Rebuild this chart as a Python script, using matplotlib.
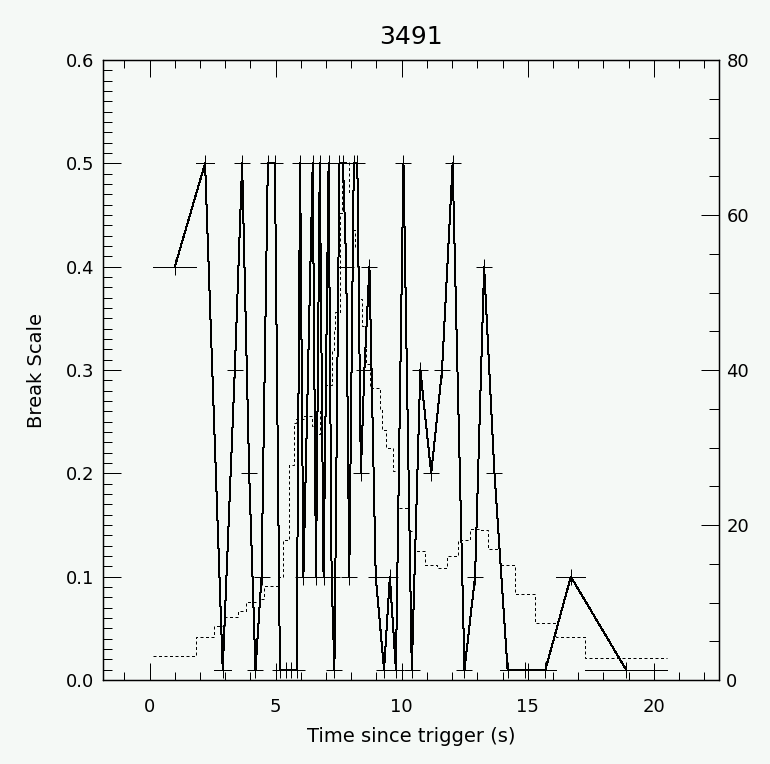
import numpy as np
import matplotlib
matplotlib.use('Agg')
import matplotlib.pyplot as plt
from matplotlib.ticker import MultipleLocator, FormatStrFormatter

# break scale per time bin (bin centre, half width, value)
t = [1.0, 2.2, 2.9, 3.38, 3.67, 3.95, 4.20, 4.44, 4.69, 4.97,
     5.17, 5.40, 5.62, 5.83, 5.97, 6.10, 6.47, 6.60, 6.75, 6.90,
     7.10, 7.22, 7.33, 7.53, 7.67, 7.80, 7.92, 8.10, 8.24, 8.38,
     8.52, 8.72, 8.97, 9.30, 9.53, 9.77, 10.07, 10.40, 10.74, 11.17,
     11.60, 12.02, 12.49, 12.91, 13.27, 13.68, 14.20, 14.88, 15.70, 16.71,
     18.90]
scale = [0.4, 0.5, 0.01, 0.3, 0.5, 0.2, 0.01, 0.1, 0.5, 0.5,
         0.01, 0.01, 0.01, 0.01, 0.5, 0.1, 0.5, 0.1, 0.5, 0.1,
         0.5, 0.1, 0.01, 0.5, 0.5, 0.4, 0.1, 0.5, 0.5, 0.2,
         0.3, 0.4, 0.1, 0.01, 0.1, 0.01, 0.5, 0.01, 0.3, 0.2,
         0.3, 0.5, 0.01, 0.1, 0.4, 0.2, 0.01, 0.01, 0.01, 0.1,
         0.01]
xerr = [0.85, 0.37, 0.33, 0.15, 0.14, 0.14, 0.12, 0.12, 0.13, 0.13,
        0.12, 0.11, 0.10, 0.10, 0.08, 0.10, 0.10, 0.08, 0.08, 0.08,
        0.08, 0.06, 0.06, 0.08, 0.06, 0.06, 0.06, 0.08, 0.06, 0.07,
        0.08, 0.12, 0.15, 0.085, 0.145, 0.10, 0.20, 0.135, 0.195, 0.235,
        0.195, 0.23, 0.235, 0.19, 0.17, 0.235, 0.285, 0.395, 0.43, 0.58,
        1.615]

# light curve (right axis), variable width bins
hist_edges = [0.15, 1.83, 2.57, 3.00, 3.52, 3.82, 4.39, 4.54, 5.11, 5.29,
              5.51, 5.71, 5.81, 6.13, 6.44, 6.60, 6.77, 6.83, 7.23, 7.30,
              7.37, 7.56, 7.63, 7.89, 8.02, 8.15, 8.22, 8.29, 8.42, 8.59,
              8.75, 9.15, 9.21, 9.38, 9.67, 9.87, 10.27, 10.54, 10.93, 11.40,
              11.79, 12.25, 12.72, 13.10, 13.44, 13.91, 14.48, 15.27, 16.13, 17.29,
              20.52]
hist_counts = [3.1, 5.6, 7.0, 8.1, 8.9, 10.1, 10.5, 12.1, 13.3, 18.1,
               27.7, 33.2, 33.7, 34.1, 32.8, 31.7, 35.0, 38.1, 42.6, 45.2,
               47.5, 60.3, 66.8, 63.0, 58.1, 55.9, 53.2, 49.2, 45.7, 40.8,
               37.7, 35.0, 32.2, 30.0, 27.0, 22.2, 19.25, 16.7, 14.9, 14.4,
               16.05, 18.1, 19.5, 19.3, 16.9, 14.9, 11.1, 7.3, 5.5, 2.8]

bg = '#f5f9f6'
lw = 0.72
plt.rcParams['lines.antialiased'] = False

fig = plt.figure(figsize=(7.7, 7.64), dpi=100, facecolor=bg)
ax = fig.add_axes([0.1334, 0.1099, 0.8008, 0.8115])
ax.set_facecolor(bg)

ax.errorbar(t, scale, xerr=xerr, color='k', lw=lw, marker='+', ms=11,
            mew=lw, elinewidth=lw, capsize=0)

ax.set_xlim(-1.86, 22.6)
ax.set_ylim(0, 0.6)
ax.xaxis.set_major_locator(MultipleLocator(5))
ax.xaxis.set_minor_locator(MultipleLocator(1))
ax.yaxis.set_major_locator(MultipleLocator(0.1))
ax.yaxis.set_minor_locator(MultipleLocator(0.01))
ax.yaxis.set_major_formatter(FormatStrFormatter('%.1f'))
ax.tick_params(which='both', direction='in', top=True, bottom=True,
               left=True, right=False, width=lw)
ax.tick_params(axis='x', which='major', length=12, pad=13, labelsize=13)
ax.tick_params(axis='x', which='minor', length=6)
ax.tick_params(axis='y', which='major', length=13, pad=6, labelsize=13)
ax.tick_params(axis='y', which='minor', length=6.5)
ax.set_xlabel('Time since trigger (s)', fontsize=14, labelpad=8)
ax.set_ylabel('Break Scale', fontsize=14, labelpad=14)
for s in ax.spines.values():
    s.set_linewidth(0.9)

# counts on the right hand axis
ax2 = ax.twinx()
ax2.stairs(hist_counts, hist_edges, baseline=None, color='k', lw=lw,
           linestyle=(0, (3, 2.5)))
ax2.set_ylim(0, 80)
ax2.yaxis.set_major_locator(MultipleLocator(20))
ax2.yaxis.set_minor_locator(MultipleLocator(5))
ax2.tick_params(which='both', direction='in', width=lw, left=False, right=True)
ax2.tick_params(which='major', length=13, pad=5, labelsize=13)
ax2.tick_params(which='minor', length=7)
for s in ax2.spines.values():
    s.set_linewidth(0.9)

fig.text(0.534, 1 - 37 / 764, '3491', ha='center', va='center', fontsize=18)

fig.savefig('out.png', dpi=100, facecolor=bg)
